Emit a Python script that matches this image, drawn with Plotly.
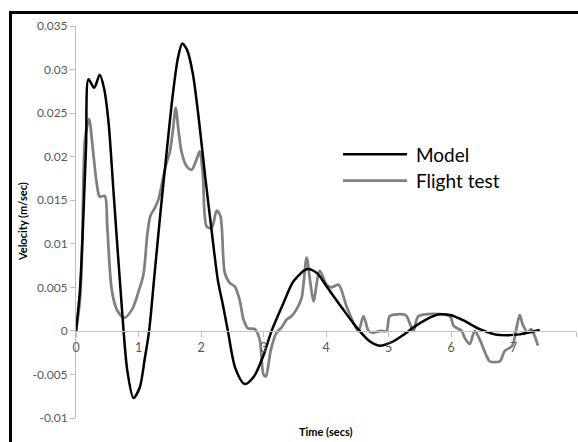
import plotly.graph_objects as go

# ---- data ----
model_t = [0, 0.064, 0.16, 0.2, 0.29, 0.38, 0.45, 0.52, 0.6, 0.73, 0.82, 0.92, 1.02, 1.1, 1.17,
           1.25, 1.35, 1.45, 1.55, 1.63, 1.7, 1.78, 1.87, 1.97, 2.07, 2.17, 2.27, 2.35, 2.43, 2.55,
           2.7, 2.85, 3.0, 3.13, 3.32, 3.48, 3.7, 3.86, 4.01, 4.27, 4.49, 4.7, 4.86, 5.05, 5.25,
           5.4, 5.6, 5.82, 6.0, 6.2, 6.46, 6.7, 6.89, 7.1, 7.3, 7.42]
model_v = [0, 0.0048, 0.021, 0.0289, 0.0279, 0.0294, 0.0278, 0.024, 0.016, 0.003, -0.0045, -0.0077,
           -0.0065, -0.0032, 0, 0.006, 0.0135, 0.0205, 0.0272, 0.0313, 0.033, 0.0322, 0.0295, 0.024,
           0.0175, 0.0115, 0.0058, 0.003, 0, -0.0043, -0.0061, -0.0052, -0.0028, 0, 0.0032, 0.0057,
           0.0071, 0.0066, 0.0051, 0.0025, 0.0004, -0.0012, -0.0017, -0.0013, -0.0004, 0.0004,
           0.0013, 0.0019, 0.0018, 0.0012, 0.0002, -0.0004, -0.0005, -0.0004, -0.0001, 0.0001]

flight_t = [0, 0.064, 0.1, 0.144, 0.21, 0.27, 0.33, 0.38, 0.46, 0.5, 0.57, 0.65, 0.77, 0.9, 1.0, 1.08,
            1.14, 1.19, 1.26, 1.32, 1.4, 1.45, 1.5, 1.55, 1.595, 1.64, 1.69, 1.77, 1.85, 1.93, 1.98,
            2.03, 2.09, 2.17, 2.25, 2.31, 2.38, 2.46, 2.54, 2.62, 2.68, 2.75, 2.86, 2.94, 3.0, 3.04,
            3.08, 3.12, 3.21, 3.29, 3.37, 3.45, 3.53, 3.61, 3.69, 3.75, 3.8, 3.9, 4.01, 4.09, 4.2,
            4.33, 4.46, 4.52, 4.6, 4.68, 4.75, 4.88, 4.97, 5.02, 5.24, 5.29, 5.4, 5.48, 5.98, 6.04,
            6.17, 6.22, 6.3, 6.38, 6.46, 6.57, 6.62, 6.78, 6.86, 6.98, 7.05, 7.1, 7.15, 7.23, 7.28,
            7.34, 7.39]
flight_v = [0, 0.0036, 0.01, 0.022, 0.0243, 0.0208, 0.017, 0.0154, 0.0155, 0.012, 0.0048, 0.0025,
            0.0015, 0.0025, 0.0045, 0.0065, 0.011, 0.0132, 0.0141, 0.0151, 0.0178, 0.0193, 0.0205,
            0.023, 0.0256, 0.023, 0.0205, 0.0189, 0.0185, 0.0197, 0.0206, 0.018, 0.012, 0.0118,
            0.0138, 0.0132, 0.0067, 0.0055, 0.0051, 0.0035, 0.0013, 0.0003, 0.0002, -0.001, -0.005,
            -0.0052, -0.0038, -0.0021, -0.0002, 0.0004, 0.0013, 0.0017, 0.0025, 0.0038, 0.0084,
            0.0055, 0.0034, 0.0069, 0.0053, 0.005, 0.0053, 0.0028, 0.0006, 0, 0.0017, 0, -0.0002, 0,
            0, 0.0017, 0.0019, 0.0017, 0, 0.0017, 0.0017, 0.0006, 0, -0.0008, -0.0015, 0, -0.001,
            -0.0029, -0.0035, -0.0035, -0.0023, -0.0017, 0.0004, 0.0018, 0.0007, -0.0002, 0.0002,
            -0.0006, -0.0017]

y_ticks = [-0.01, -0.005, 0, 0.005, 0.01, 0.015, 0.02, 0.025, 0.03, 0.035]
y_labels = ["-0.01", "-0.005", "0", "0.005", "0.01", "0.015", "0.02", "0.025", "0.03", "0.035"]
x_ticks = [0, 1, 2, 3, 4, 5, 6, 7, 8]
x_labels = ["0", "1", "2", "3", "4", "5", "6", "7", "8"]
series_names = ["Model", "Flight test"]

FONT = "Lato"
BLACK = "#000000"
GRAY = "#808080"
AXIS = "#bfbfbf"
TICKTXT = "#595959"

fig = go.Figure()
fig.add_trace(go.Scatter(x=flight_t, y=flight_v, mode="lines", name=series_names[1],
                         line=dict(color=GRAY, width=2.75, shape="spline", smoothing=0.8)))
fig.add_trace(go.Scatter(x=model_t, y=model_v, mode="lines", name=series_names[0],
                         line=dict(color=BLACK, width=2.5, shape="spline", smoothing=0.8)))

ymin, ymax = -0.01, 0.035
fig.update_layout(
    width=578, height=442,
    margin=dict(l=76, r=2, t=26, b=24),
    paper_bgcolor="white", plot_bgcolor="white",
    showlegend=False,
    font=dict(family=FONT, color=TICKTXT),
    xaxis=dict(range=[0, 8], tickvals=x_ticks, ticktext=x_labels,
               showgrid=False, zeroline=False, showline=True, linecolor=AXIS, linewidth=1,
               ticks="outside", ticklen=5, tickcolor=AXIS, tickwidth=1,
               anchor="free", position=(0 - ymin) / (ymax - ymin),
               tickfont=dict(family=FONT, size=12.5, color=TICKTXT)),
    yaxis=dict(range=[ymin, ymax], tickvals=y_ticks, ticktext=y_labels,
               showgrid=False, zeroline=False, showline=True, linecolor=AXIS, linewidth=1,
               ticks="outside", ticklen=5, tickcolor=AXIS, tickwidth=1,
               tickfont=dict(family=FONT, size=12, color=TICKTXT)),
)

# outer black frame (extends past the right/bottom edges like the reference crop)
fig.add_shape(type="rect", xref="paper", yref="paper",
              x0=(10.5 - 76) / 500, x1=(600 - 76) / 500,
              y0=(418 - 470) / 392, y1=(418 - 12.5) / 392,
              line=dict(color="black", width=3), fillcolor="rgba(0,0,0,0)", layer="above")

# legend drawn manually
for name, col, py, w in [(series_names[0], BLACK, 154.3, 2.5), (series_names[1], GRAY, 180.7, 2.75)]:
    yp = (418 - py) / 392
    fig.add_shape(type="line", xref="paper", yref="paper",
                  x0=(343 - 76) / 500, x1=(407 - 76) / 500, y0=yp, y1=yp,
                  line=dict(color=col, width=w))
    fig.add_annotation(xref="paper", yref="paper", x=(414 - 76) / 500, y=yp,
                       text=name, showarrow=False, xanchor="left", yanchor="middle",
                       font=dict(family=FONT, size=19, color="#000000"))

# axis titles
fig.add_annotation(xref="paper", yref="paper", x=(22 - 76) / 500, y=0.5,
                   text="<b>Velocity (m/sec)</b>", showarrow=False, textangle=-90,
                   xanchor="center", yanchor="middle",
                   font=dict(family=FONT, size=11, color="#000000"))
fig.add_annotation(xref="paper", yref="paper", x=0.5, y=(418 - 431) / 392,
                   text="<b>Time (secs)</b>", showarrow=False,
                   xanchor="center", yanchor="middle",
                   font=dict(family=FONT, size=11, color="#000000"))

fig.write_html("out.html")
